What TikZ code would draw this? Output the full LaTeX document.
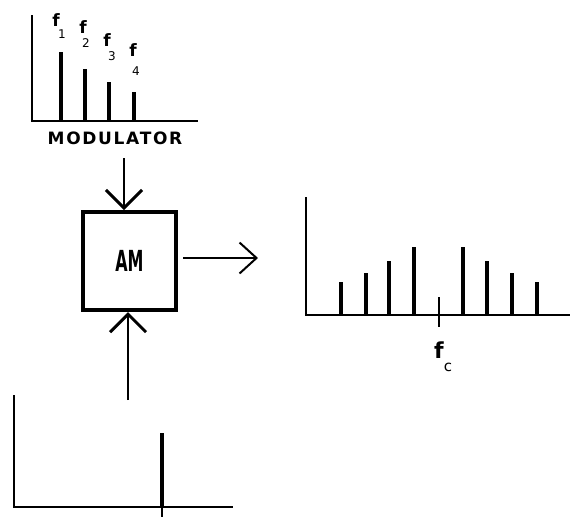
\documentclass[tikz,border=0pt]{standalone}
\usepackage{fontspec}
\setmainfont{DejaVu Sans}
\usetikzlibrary{arrows.meta}
\begin{document}
\begin{tikzpicture}[x=1pt,y=-1pt,
  axis/.style={line width=2pt},
  spike/.style={line width=3.5pt},
  thintick/.style={line width=1.5pt},
  flabel/.style={font=\bfseries\fontsize{17}{17}\selectfont, inner sep=0},
  sublabel/.style={font=\fontsize{12}{12}\selectfont, inner sep=0},
  fclabel/.style={font=\bfseries\fontsize{22}{22}\selectfont, inner sep=0},
  fcsub/.style={font=\fontsize{15}{15}\selectfont, inner sep=0},
  feed/.style={line width=1.5pt, -{Straight Barb[length=18pt,width=36pt,line width=3pt]}},
  outarrow/.style={line width=1.5pt, -{Straight Barb[length=17pt,width=31pt,line width=2pt]}},
]
\useasboundingbox (0,0) rectangle (577,517);

% modulator spectrum
\coordinate (mtop) at (32,15);
\coordinate (morig) at (32,121);
\coordinate (mend) at (198,121);
\draw[axis] (mtop) -- (morig) -- (mend);
\draw[spike] (61,121) -- (61,52);
\draw[spike] (85,121) -- (85,69);
\draw[spike] (109,121) -- (109,82);
\draw[spike] (134,121) -- (134,92);
\node[flabel] (f1) at (56,20) {f};
\node[sublabel] (s1) at (62,34) {1};
\node[flabel] (f2) at (83,27) {f};
\node[sublabel] (s2) at (86,43) {2};
\node[flabel] (f3) at (107,40) {f};
\node[sublabel] (s3) at (112,56) {3};
\node[flabel] (f4) at (133,50) {f};
\node[sublabel] (s4) at (136,71) {4};
\node[inner sep=0, font=\bfseries\fontsize{17}{17}\selectfont\addfontfeature{LetterSpace=10}] (modlabel) at (115,138) {MODULATOR};

% modulator block
\node[draw, line width=4pt, minimum width=93pt, minimum height=98pt, inner sep=0,
      font=\bfseries\fontsize{29}{29}\selectfont] (am) at (129.5,261)
      {\scalebox{0.55}[1]{AM}};

% inputs and output
\coordinate (modin) at (124,158);
\coordinate (carin) at (128,400);
\coordinate (outend) at (258,258);
\draw[feed] (modin) -- (modin |- am.north);
\draw[feed] (carin) -- (carin |- am.south);
\draw[outarrow, shorten <=5pt] (am.east |- outend) -- (outend);

% output spectrum
\coordinate (otop) at (306,197);
\coordinate (oorig) at (306,315);
\coordinate (oend) at (570,315);
\draw[axis] (otop) -- (oorig) -- (oend);
\draw[spike] (341,315) -- (341,282);
\draw[spike] (366,315) -- (366,273);
\draw[spike] (389,315) -- (389,261);
\draw[spike] (414,315) -- (414,247);
\draw[thintick] (439,297) -- (439,327);
\draw[spike] (463,315) -- (463,247);
\draw[spike] (487,315) -- (487,261);
\draw[spike] (512,315) -- (512,273);
\draw[spike] (537,315) -- (537,282);
\node[fclabel] (fc) at (439,350) {f};
\node[fcsub] (fcs) at (448,367) {c};

% carrier spectrum
\coordinate (ctop) at (14,395);
\coordinate (corig) at (14,507);
\coordinate (cend) at (233,507);
\draw[axis] (ctop) -- (corig) -- (cend);
\draw[spike] (162,507) -- (162,433);
\draw[thintick] (162,507) -- (162,517);
\end{tikzpicture}
\end{document}
